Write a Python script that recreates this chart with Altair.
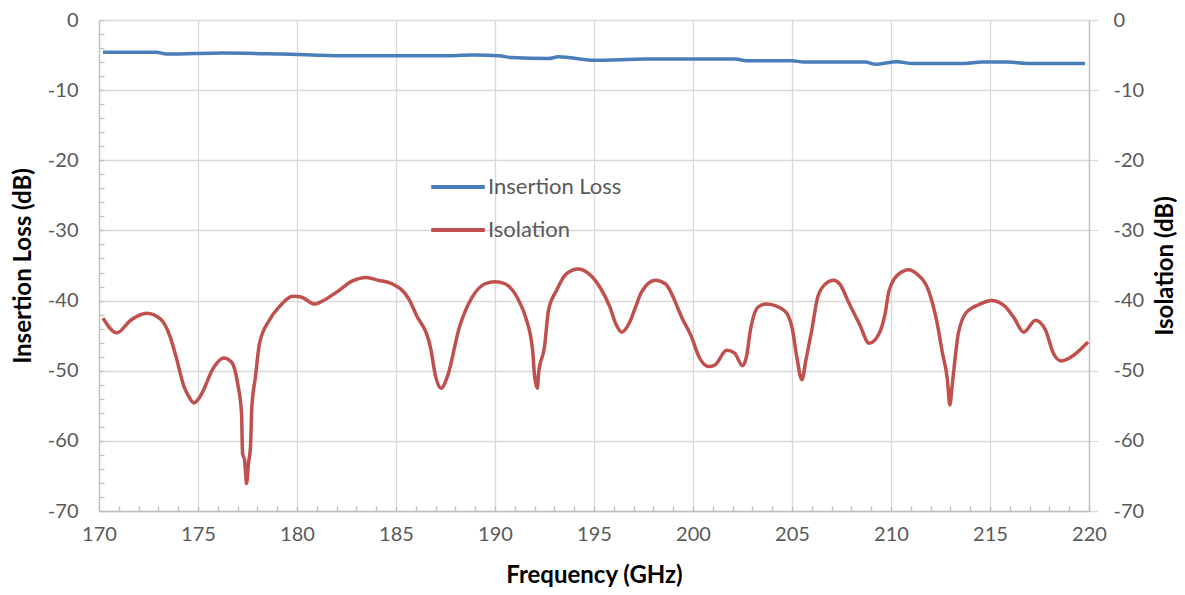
import altair as alt
import pandas as pd

# ---- data ----
il_freq = [170.2, 172.9, 173.4, 176.3, 179.2, 182.4, 187.3, 188.9, 190.2, 190.8, 192.7, 193.2,
           195.0, 197.6, 202.1, 202.7, 205.0, 205.6, 208.7, 209.2, 210.3, 211.1, 213.7, 214.6,
           215.9, 216.9, 219.8]
il_db = [-4.6, -4.6, -4.85, -4.7, -4.85, -5.1, -5.1, -5.0, -5.1, -5.35, -5.5, -5.25,
         -5.75, -5.55, -5.55, -5.8, -5.8, -6.0, -6.0, -6.3, -5.95, -6.2, -6.2, -6.0,
         -6.0, -6.2, -6.2]

iso_freq = [170.2, 170.9, 171.6, 172.4, 173.1, 173.6, 173.9, 174.3, 174.5, 174.8, 175.1, 175.8,
            176.3, 176.7, 177.0, 177.2, 177.25, 177.35, 177.4, 177.45, 177.55, 177.65, 177.72,
            177.9, 178.1, 178.6, 179.1, 179.8, 180.2, 180.9, 181.2, 182.0, 182.8, 183.5, 184.1,
            184.8, 185.65, 186.0, 186.75, 187.0, 187.28, 187.6, 188.2, 188.85, 189.5, 190.0,
            190.5, 191.2, 191.55, 191.9, 192.0, 192.14, 192.2, 192.5, 192.7, 193.1, 193.6, 194.2,
            194.75, 195.3, 195.8, 196.1, 196.4, 196.8, 197.1, 197.4, 198.1, 198.6, 199.5, 199.9,
            200.3, 200.8, 201.1, 201.7, 202.1, 202.5, 202.7, 202.9, 203.3, 203.7, 204.6, 205.0,
            205.24, 205.5, 205.7, 206.0, 206.3, 206.7, 207.1, 207.4, 207.9, 208.4, 208.9, 209.4,
            209.7, 209.9, 210.4, 210.9, 211.3, 211.9, 212.3, 212.6, 212.85, 212.97, 213.1, 213.4,
            213.8, 214.5, 215.07, 215.7, 216.2, 216.7, 217.3, 217.8, 218.2, 218.6, 219.0, 219.95]
iso_db = [-42.5, -44.6, -42.8, -41.8, -42.6, -45.2, -48.1, -52.3, -53.5, -54.6, -53.7, -49.5,
          -48.2, -48.8, -51.8, -56.1, -61.8, -62.7, -64.4, -66.1, -63.2, -60.9, -55.2,
          -50.9, -46.2, -42.8, -40.9, -39.4, -39.5, -40.5, -40.2, -38.8, -37.2, -36.7, -37.1,
          -37.6, -39.8, -41.9, -46.8, -50.8, -52.5, -50.8, -43.8, -39.5, -37.6, -37.3,
          -37.6, -40.0, -42.4, -47.1, -50.8, -52.5, -50.4, -46.6, -41.4, -38.6, -36.2, -35.5,
          -36.2, -38.1, -40.9, -43.3, -44.5, -43.1, -40.9, -38.8, -37.1, -37.6, -42.8, -45.0,
          -48.0, -49.4, -49.2, -47.1, -47.5, -49.3, -48.0, -44.2, -40.9, -40.5, -41.4, -43.8,
          -48.0, -51.3, -48.5, -44.2, -39.5, -37.6, -37.1, -37.6, -40.5, -43.3, -46.1, -44.7,
          -41.9, -38.6, -36.2, -35.6, -36.2, -38.6, -42.8, -47.5, -51.3, -54.9, -51.8, -44.7,
          -41.7, -40.5, -40.0, -40.7, -42.4, -44.5, -42.8, -44.2, -47.5, -48.6, -48.2, -45.9]

series_names = ["Insertion Loss", "Isolation"]
series_colors = ["#4a7ebb", "#c0504d"]

x_major = [170, 175, 180, 185, 190, 195, 200, 205, 210, 215, 220]
x_minor = list(range(170, 221))
y_major = [0, -10, -20, -30, -40, -50, -60, -70]
y_minor = list(range(-70, 1, 2))

df = pd.concat([
    pd.DataFrame({"freq": il_freq, "db": il_db, "series": series_names[0], "order": range(len(il_freq))}),
    pd.DataFrame({"freq": iso_freq, "db": iso_db, "series": series_names[1], "order": range(len(iso_freq))}),
], ignore_index=True)

FONT = "Lato"
W, H = 990, 491
LBL = "toString(datum.value)"

xs = alt.Scale(domain=[170, 220], nice=False, zero=False)
ys = alt.Scale(domain=[-70, 0], nice=False, zero=False)

base = alt.Chart(df)

# main visible lines with bottom x axis and left y axis
main = base.mark_line(strokeWidth=3.5, interpolate="monotone").encode(
    x=alt.X("freq:Q", scale=xs, axis=alt.Axis(
        values=x_major, orient="bottom", title="Frequency (GHz)", grid=True, gridColor="#d9d9d9",
        gridWidth=1.3, ticks=False, domainColor="#bfbfbf", domainWidth=1.3, labelPadding=13,
        labelFlush=False, labelOverlap=False,
        labelFont=FONT, labelFontSize=20, labelColor="#595959", labelExpr=LBL,
        titleFont=FONT, titleFontSize=24, titleFontWeight="bold", titleColor="#000000",
        titleBaseline="middle", titleY=64, titleX=W / 2)),
    y=alt.Y("db:Q", scale=ys, axis=alt.Axis(
        values=y_major, title="Insertion Loss (dB)", orient="left", grid=True, gridColor="#d9d9d9",
        gridWidth=1.3, ticks=False, domainColor="#bfbfbf", domainWidth=1.3, labelPadding=21,
        labelFlush=False, labelOverlap=False,
        labelFont=FONT, labelFontSize=20, labelColor="#595959", labelExpr=LBL,
        titleFont=FONT, titleFontSize=24, titleFontWeight="bold", titleColor="#000000",
        titleBaseline="middle", titleX=-76, titleY=H / 2, titleAngle=270)),
    color=alt.Color("series:N", scale=alt.Scale(domain=series_names, range=series_colors),
                    legend=alt.Legend(title=None, orient="none", legendX=330, legendY=138,
                                      symbolType="stroke", symbolSize=2873, symbolStrokeWidth=4,
                                      labelFont=FONT, labelFontSize=22, labelColor="#595959",
                                      labelOffset=1, rowPadding=3, padding=0)),
    order="order:Q",
)

# right axis with outward major ticks, and bottom minor ticks (inward)
right = base.mark_line(strokeOpacity=0).encode(
    x=alt.X("freq:Q", scale=xs, axis=alt.Axis(
        values=x_minor, orient="bottom", labels=False, title=None, grid=False, domain=False,
        ticks=True, tickSize=5, tickColor="#bfbfbf", tickWidth=1.3, offset=-5)),
    y=alt.Y("db:Q", scale=ys, axis=alt.Axis(
        values=y_major, orient="right", title="Isolation (dB)", grid=False, domainColor="#bfbfbf",
        domainWidth=1.3, ticks=True, tickSize=9, tickColor="#d9d9d9", tickWidth=1.3, labelPadding=15,
        labelFlush=False, labelOverlap=False,
        labelFont=FONT, labelFontSize=20, labelColor="#595959", labelExpr=LBL,
        titleFont=FONT, titleFontSize=24, titleFontWeight="bold", titleColor="#000000",
        titleBaseline="middle", titleX=76, titleY=H / 2, titleAngle=270)),
    detail="series:N",
    order="order:Q",
)

# left minor ticks (inward)
leftminor = base.mark_line(strokeOpacity=0).encode(
    x=alt.X("freq:Q", scale=xs, axis=None),
    y=alt.Y("db:Q", scale=ys, axis=alt.Axis(
        values=y_minor, orient="left", labels=False, title=None, grid=False, domain=False,
        ticks=True, tickSize=5, tickColor="#bfbfbf", tickWidth=1.3, offset=-5)),
    detail="series:N",
    order="order:Q",
)

chart = alt.layer(right, leftminor, main).resolve_axis(x="independent", y="independent").properties(
    width=W, height=H,
    autosize=alt.AutoSizeParams(type="none"),
    padding={"left": 91, "top": 12, "right": 88, "bottom": 76},
    background="white",
).configure_view(stroke=None)

chart.save("out.html", embed_options={"renderer": "svg", "actions": False})
